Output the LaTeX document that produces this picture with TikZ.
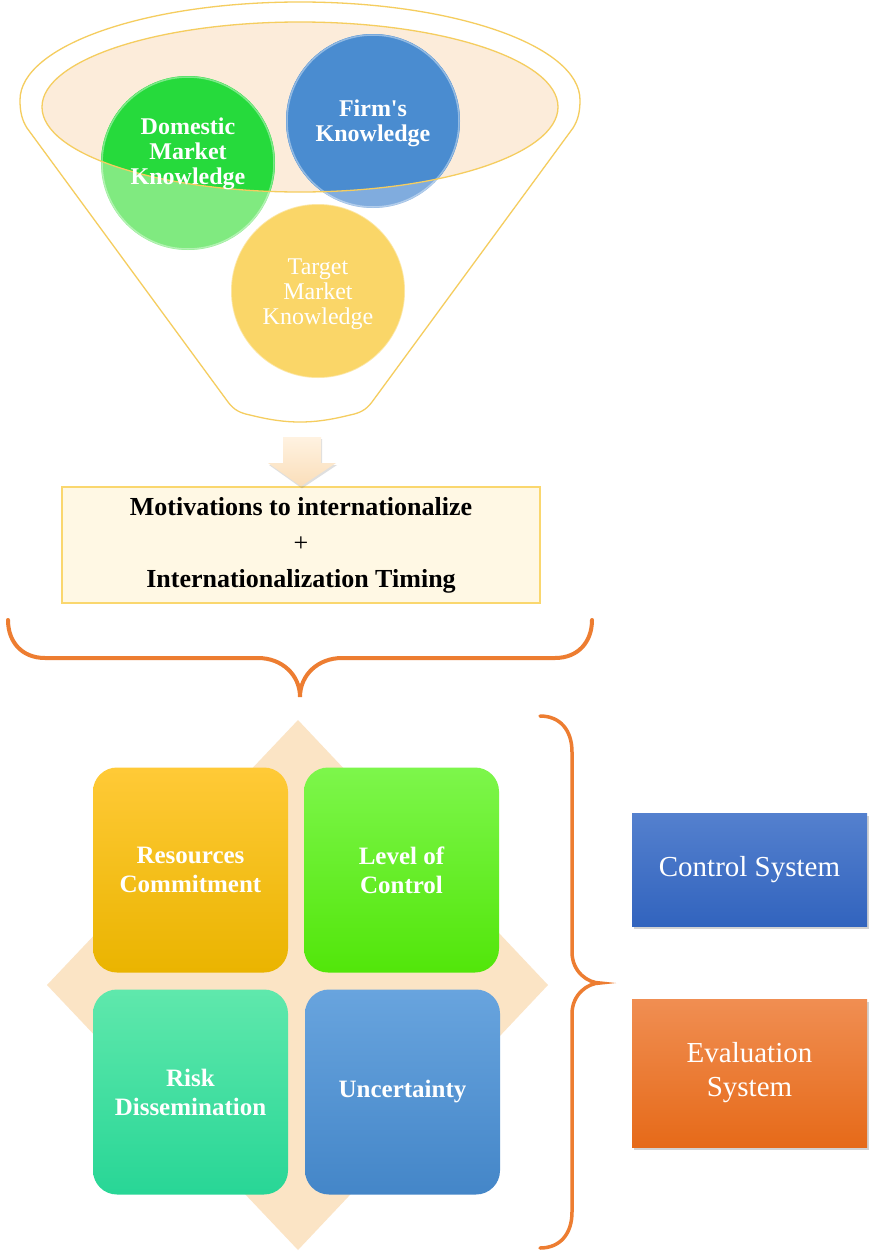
\documentclass[tikz,border=0pt]{standalone}
\usepackage{fontspec}
\setmainfont{Liberation Serif}[Ligatures=TeXOff]
\usetikzlibrary{shadows}
\definecolor{gold}{RGB}{245,205,95}
\definecolor{peach}{RGB}{252,236,218}
\definecolor{greenD}{RGB}{38,218,60}
\definecolor{greenL}{RGB}{128,234,128}
\definecolor{blueD}{RGB}{74,140,208}
\definecolor{blueL}{RGB}{128,172,222}
\definecolor{yellowC}{RGB}{250,214,104}
\definecolor{arrowT}{RGB}{255,242,225}
\definecolor{arrowB}{RGB}{250,222,185}
\definecolor{creamBox}{RGB}{255,248,228}
\definecolor{goldBox}{RGB}{250,215,110}
\definecolor{braceOr}{RGB}{237,125,49}
\definecolor{diamondC}{RGB}{251,228,197}
\definecolor{resT}{RGB}{255,202,55}
\definecolor{resB}{RGB}{234,180,0}
\definecolor{levT}{RGB}{125,246,75}
\definecolor{levB}{RGB}{82,230,10}
\definecolor{riskT}{RGB}{95,232,172}
\definecolor{riskB}{RGB}{40,214,150}
\definecolor{uncT}{RGB}{104,164,222}
\definecolor{uncB}{RGB}{68,134,200}
\definecolor{ctrlT}{RGB}{84,128,206}
\definecolor{ctrlB}{RGB}{50,100,190}
\definecolor{evalT}{RGB}{240,142,82}
\definecolor{evalB}{RGB}{230,106,25}
\tikzset{
  funnelline/.style={draw=gold, line width=1.3pt},
  knowcircle/.style={circle, minimum size=174pt, inner sep=0pt},
  rim/.style={draw=white, draw opacity=0.4, line width=1.5pt},
  circtext/.style={text=white, align=center, font=\bfseries\fontsize{24}{25}\selectfont},
  circtextreg/.style={text=white, align=center, font=\fontsize{24}{25}\selectfont},
  squarebox/.style={rounded corners=24pt, minimum width=195pt, minimum height=205pt, inner sep=0pt,
     text=white, align=center, font=\bfseries\fontsize{25}{29}\selectfont},
  sysbox/.style={minimum width=235pt, inner sep=0pt, text=white, align=center,
     font=\fontsize{29}{34}\selectfont, drop shadow={opacity=0.35, shadow xshift=2pt, shadow yshift=-3pt}},
  bracestyle/.style={draw=braceOr, line width=4pt, line cap=round}
}
\begin{document}
\begin{tikzpicture}[x=1pt,y=-1pt]
\useasboundingbox (0,0) rectangle (870,1253);
\fill[white] (0,0) rectangle (870,1253);
% funnel
\draw[funnelline] (20,100) .. controls (20,46) and (145,2) .. (300,2)
  .. controls (455,2) and (580,46) .. (580,100)
  .. controls (580,112) and (578,120) .. (573,128) -- (372,402)
  .. controls (366,410) and (360,413) .. (350,415)
  .. controls (330,420) and (315,422) .. (300,422)
  .. controls (285,422) and (270,420) .. (250,415)
  .. controls (240,413) and (234,410) .. (228,402) -- (27,128)
  .. controls (22,120) and (20,112) .. (20,100) -- cycle;
\fill[peach] (300,107) ellipse [x radius=258, y radius=85];
\node[knowcircle, fill=greenL] (dom) at (188,163) {};
\node[knowcircle, fill=blueL] (firm) at (373,121) {};
\node[knowcircle, fill=yellowC, rim] (targ) at (318,291) {};
\begin{scope}
  \clip (300,107) ellipse [x radius=258, y radius=85];
  \fill[greenD] (dom.center) circle [radius=87];
  \fill[blueD] (firm.center) circle [radius=87];
\end{scope}
\draw[rim] (dom.center) circle [radius=86];
\draw[rim] (firm.center) circle [radius=86];
\draw[draw=gold, line width=1.3pt] (300,107) ellipse [x radius=258, y radius=85];
\node[circtext] at ([yshift=9pt]dom.center) {Domestic\\Market\\Knowledge};
\node[circtext] at ([yshift=-2pt]firm.center) {Firm's\\Knowledge};
\node[circtextreg] at ([yshift=-3pt]targ.center) {Target\\Market\\Knowledge};
% box
\node[draw=goldBox, line width=1.2pt, fill=creamBox, minimum width=478pt, minimum height=116pt,
  align=center, font=\fontsize{26}{36}\selectfont] (mot) at (301,545)
  {\textbf{Motivations to internationalize}\\+\\\textbf{Internationalization Timing}};
% arrow
\coordinate (arrtop) at (302,437);
\shade[top color=arrowT, bottom color=arrowB, drop shadow={opacity=0.25, shadow xshift=1pt, shadow yshift=-2pt}]
  ([xshift=-19pt]arrtop) -- ([xshift=19pt]arrtop) -- (321,463) -- (336,463) -- (mot.north) -- (268,463) -- (283,463) -- cycle;
% horizontal brace
\coordinate (hb) at (300,697);
\draw[bracestyle] (8,620) .. controls (8,642) and (22,658) .. (45,658) -- (258,658)
  .. controls (282,658) and (300,675) .. (hb)
  .. controls (300,675) and (318,658) .. (342,658) -- (555,658)
  .. controls (578,658) and (592,642) .. (592,620);
% diamond
\fill[diamondC] (298,720) -- (548,985) -- (298,1250) -- (47,985) -- cycle;
% squares
\node[squarebox, top color=resT, bottom color=resB] (res) at (190.5,870) {Resources\\Commitment};
\node[squarebox, top color=levT, bottom color=levB] (lev) at (401.5,870) {Level of\\Control};
\node[squarebox, top color=riskT, bottom color=riskB] (risk) at (190.5,1092) {Risk\\Dissemination};
\node[squarebox, top color=uncT, bottom color=uncB] (unc) at (402.5,1092) {Uncertainty};
% right brace
\coordinate (rb) at (600,983);
\draw[bracestyle, line width=3.5pt] (540,716) .. controls (560,716) and (572,730) .. (572,752) -- (572,952)
  .. controls (572,972) and (588,983) .. (rb)
  .. controls (588,983) and (572,994) .. (572,1014) -- (572,1212)
  .. controls (572,1234) and (560,1248) .. (540,1248);
% system boxes
\node[sysbox, minimum height=113pt, top color=ctrlT, bottom color=ctrlB] (ctrl) at (749.5,869.5) {Control System};
\node[sysbox, minimum height=148pt, top color=evalT, bottom color=evalB] (eval) at (749.5,1073) {Evaluation\\System};
\end{tikzpicture}
\end{document}
